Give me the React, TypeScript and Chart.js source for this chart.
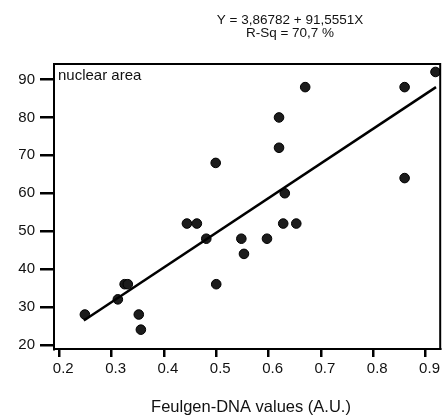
import React, { useEffect, useRef } from "react";
import { Chart, registerables } from "chart.js";

Chart.register(...registerables);

const FONT = "'Liberation Sans', Arial, Helvetica, sans-serif";

// Feulgen-DNA values (A.U.)
const dnaValues = [
  0.919, 0.670, 0.860, 0.860,
  0.620, 0.620, 0.499, 0.631,
  0.444, 0.463, 0.628, 0.653,
  0.481, 0.548, 0.597, 0.553,
  0.249, 0.312, 0.325, 0.331, 0.352, 0.356, 0.500,
];
// nuclear area
const nuclearArea = [
  92, 88, 88, 64,
  80, 72, 68, 60,
  52, 52, 52, 52,
  48, 48, 48, 44,
  28, 32, 36, 36, 28, 24, 36,
];
// regression line endpoints
const fitX = [0.247, 0.92];
const fitY = [26.4, 88.0];

const xTicks = [0.2, 0.3, 0.4, 0.5, 0.6, 0.7, 0.8, 0.9];
const yTicks = [20, 30, 40, 50, 60, 70, 80, 90];

const titleLines = ["Y = 3,86782 + 91,5551X", "R-Sq = 70,7 %"];
const xTitle = "Feulgen-DNA values (A.U.)";
const innerLabel = "nuclear area";

export default function App() {
  const ref = useRef<HTMLCanvasElement | null>(null);
  useEffect(() => {
    if (!ref.current) return;
    const textPlugin = {
      id: "texts",
      afterDraw(chart: any) {
        const { ctx, chartArea } = chart;
        ctx.save();
        ctx.strokeStyle = "#000";
        ctx.lineWidth = 2;
        ctx.strokeRect(chartArea.left, chartArea.top, chartArea.right - chartArea.left, chartArea.bottom - chartArea.top);
        ctx.fillStyle = "#111";
        ctx.textAlign = "center";
        ctx.textBaseline = "alphabetic";
        ctx.font = `13.5px ${FONT}`;
        ctx.fillText(titleLines[0], 290, 23.5);
        ctx.fillText(titleLines[1], 290, 37);
        ctx.font = `16.5px ${FONT}`;
        ctx.fillText(xTitle, 251, 411.5);
        ctx.font = `15px ${FONT}`;
        ctx.textAlign = "left";
        ctx.fillText(innerLabel, chartArea.left + 4, chartArea.top + 15.5);
        ctx.restore();
      },
    };
    const chart = new Chart(ref.current, {
      type: "scatter",
      data: {
        datasets: [
          {
            type: "line",
            data: fitX.map((x, i) => ({ x, y: fitY[i] })),
            borderColor: "#000",
            borderWidth: 2.5,
            pointRadius: 0,
            fill: false,
            order: 1,
          } as any,
          {
            data: dnaValues.map((x, i) => ({ x, y: nuclearArea[i] })),
            backgroundColor: "#1c1c1c",
            borderColor: "#000",
            borderWidth: 1,
            pointRadius: 4.8,
            order: 2,
          },
        ],
      },
      options: {
        responsive: false,
        animation: false,
        events: [],
        layout: { padding: { top: 64, right: 1, left: 0, bottom: 0 } },
        plugins: { legend: { display: false }, tooltip: { enabled: false }, title: { display: false } },
        scales: {
          x: {
            type: "linear",
            min: 0.19,
            max: 0.928,
            afterFit(scale: any) {
              scale.height = 70;
            },
            afterBuildTicks(scale: any) {
              scale.ticks = xTicks.map((v) => ({ value: v }));
            },
            ticks: {
              color: "#111",
              font: { family: FONT, size: 15 },
              padding: 3,
              labelOffset: 4,
              maxRotation: 0,
              autoSkip: false,
              callback: (v: any) => Number(v).toFixed(1),
            },
            grid: { drawOnChartArea: false, drawTicks: true, tickLength: 8, lineWidth: 2.5, color: "#000" },
            border: { display: true, width: 2, color: "#000" },
          },
          y: {
            type: "linear",
            min: 18.9,
            max: 94.1,
            afterFit(scale: any) {
              scale.width = 54;
            },
            afterBuildTicks(scale: any) {
              scale.ticks = yTicks.map((v) => ({ value: v }));
            },
            ticks: {
              color: "#111",
              font: { family: FONT, size: 15 },
              padding: 5,
              autoSkip: false,
              callback: (v: any) => String(v),
            },
            grid: { drawOnChartArea: false, drawTicks: true, tickLength: 14, lineWidth: 2.5, color: "#000" },
            border: { display: true, width: 2, color: "#000" },
          },
        },
      },
      plugins: [textPlugin],
    } as any);
    return () => chart.destroy();
  }, []);
  return (
    <div style={{ position: "absolute", left: 0, top: 0, width: 446, height: 419, background: "#fff" }}>
      <canvas ref={ref} width={446} height={419} />
    </div>
  );
}
